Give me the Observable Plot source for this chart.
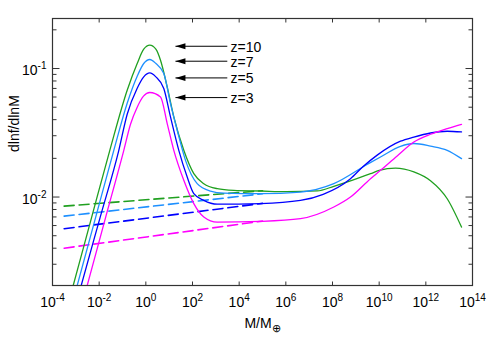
<!DOCTYPE html>
<html><head><meta charset="utf-8">
<script src="https://cdn.jsdelivr.net/npm/d3@7"></script>
<script src="https://cdn.jsdelivr.net/npm/@observablehq/plot@0.6"></script>
<style>body{margin:0;background:#fff;} svg{display:block;}</style>
</head><body><div id="chart"></div>
<script>
// ---- data (pairs of [log10 M, dlnf/dlnM]) ----
const seriesLabels = ["z=10", "z=7", "z=5", "z=3"];
const z10 = [[-3.3,0.00154],[-3.113,0.00205],[-2.329,0.00689],[-1.544,0.0231],[-0.799,0.0678],[-0.37,0.1094],[-0.09,0.1413],[0.17,0.1518],[0.43,0.1413],[0.629,0.116],[0.916,0.0719],[1.199,0.042],[1.627,0.0231],[2.056,0.0152],[2.484,0.0127],[3.059,0.01162],[3.77,0.01127],[4.914,0.01114],[6.0,0.0110],[7.344,0.01115],[8.056,0.01212],[8.771,0.01334],[9.629,0.0152],[10.0,0.0161],[10.7,0.0168],[11.486,0.0157],[12.2,0.0134],[12.916,0.0097],[13.529,0.00584]];
const z7 = [[-3.1,0.0016],[-2.941,0.00205],[-2.157,0.00689],[-1.373,0.0231],[-0.799,0.0537],[-0.37,0.0871],[-0.09,0.1094],[0.17,0.1175],[0.43,0.1094],[0.77,0.0914],[1.057,0.0534],[1.344,0.0331],[1.7,0.0193],[2.201,0.01272],[2.771,0.01114],[3.341,0.01074],[4.914,0.01063],[6.629,0.01094],[8.056,0.01272],[9.5,0.018],[10.057,0.0205],[10.914,0.0248],[11.486,0.0261],[12.2,0.0249],[12.916,0.0231],[13.529,0.0199]];
const z5 = [[-2.95,0.00155],[-2.77,0.00205],[-1.964,0.00689],[-1.158,0.0231],[-0.799,0.0441],[-0.37,0.0703],[-0.09,0.0861],[0.17,0.0924],[0.43,0.0861],[0.77,0.0699],[1.057,0.042],[1.413,0.0231],[1.773,0.0143],[2.056,0.01063],[2.484,0.00942],[3.059,0.0088],[4.914,0.0089],[6.629,0.00942],[7.6,0.0105],[8.771,0.0139],[9.3,0.0172],[9.916,0.0212],[10.914,0.0272],[11.486,0.0293],[12.2,0.0315],[12.916,0.0325],[13.529,0.0321]];
const z3 = [[-2.7,0.00154],[-2.513,0.00205],[-1.729,0.00689],[-0.944,0.0231],[-0.657,0.0368],[-0.37,0.05],[-0.1,0.0609],[0.17,0.0651],[0.629,0.0601],[0.916,0.0373],[1.199,0.0231],[1.627,0.0135],[2.056,0.00889],[2.484,0.00699],[3.059,0.00638],[4.914,0.00647],[6.629,0.00679],[8.056,0.00836],[8.771,0.01],[9.629,0.0139],[10.057,0.01614],[10.772,0.0209],[11.486,0.0268],[12.2,0.0308],[12.916,0.0341],[13.529,0.0368]];
// dashed power-law lines
const z10Dash = [[-3.5,0.0085],[5,0.0112]];
const z7Dash  = [[-3.5,0.0071],[5,0.0106]];
const z5Dash  = [[-3.5,0.00567],[5,0.00893]];
const z3Dash  = [[-3.5,0.0040],[5,0.0065]];
// annotations
const annoLabels = ["z=10", "z=7", "z=5", "z=3"];
const annoF = [0.149, 0.114, 0.0845, 0.0594];
const arrowTailM = 3100, arrowTipM = 18.6, annoTextM = 4300;
// axes
const xTickExp = [-4,-2,0,2,4,6,8,10,12,14];
const yTickExp = [-2,-1];
const xDomain = [1e-4, 1e14];
const yDomain = [0.00205, 0.245];
const xLabel = "M/M⊕";
const yLabel = "dlnf/dlnM";

// ---- styles ----
const colors = ["#20a020", "#1e90ff", "#0000ff", "#ff00ff"];
const font = "'Liberation Sans', Arial, Helvetica, sans-serif";

const solids = [z10, z7, z5, z3];
const dashes = [z10Dash, z7Dash, z5Dash, z3Dash];
const solidRows = solids.flatMap((s, i) => s.map(([lm, f]) => ({z: seriesLabels[i], m: 10 ** lm, f})));
const dashRows = dashes.flatMap((s, i) => s.map(([lm, f]) => ({z: seriesLabels[i], m: 10 ** lm, f})));
const annos = annoLabels.map((t, i) => ({t, f: annoF[i]}));

const xTicks = xTickExp.map(e => 10 ** e);
const yTicks = yTickExp.map(e => 10 ** e);
const yMinor = [-3, -2, -1].flatMap(e => [2,3,4,5,6,7,8,9].map(k => k * 10 ** e)).filter(v => v > yDomain[0] && v < yDomain[1]);

const seg = (x1, y1, x2, y2) => ({draw(c) { c.moveTo(x1, y1); c.lineTo(x2, y2); }});
const head = {draw(c) { c.moveTo(0, 0); c.lineTo(10, -3); c.lineTo(10, 3); c.closePath(); }};
const tickStyle = {fill: "none", stroke: "#333", strokeWidth: 1};

const chart = Plot.plot({
  width: 500, height: 350,
  marginLeft: 52, marginRight: 28, marginTop: 18, marginBottom: 65,
  style: {fontFamily: font, fontSize: "14px", background: "#fff"},
  x: {type: "log", domain: xDomain},
  y: {type: "log", domain: yDomain},
  color: {domain: seriesLabels, range: colors},
  marks: [
    Plot.line(dashRows, {x: "m", y: "f", z: "z", stroke: "z", strokeWidth: 1.6, strokeDasharray: "10,5", clip: true}),
    Plot.line(solidRows, {x: "m", y: "f", z: "z", stroke: "z", strokeWidth: 1.3, curve: "monotone-x", clip: true}),
    Plot.frame({stroke: "#333", strokeWidth: 1.2}),
    // inward ticks on all sides
    Plot.dot(xTicks, {x: d => d, y: () => yDomain[0], symbol: seg(0, 0, 0, -4), ...tickStyle}),
    Plot.dot(xTicks, {x: d => d, y: () => yDomain[1], symbol: seg(0, 0, 0, 4), ...tickStyle}),
    Plot.dot(yTicks, {x: () => xDomain[0], y: d => d, symbol: seg(0, 0, 7, 0), ...tickStyle}),
    Plot.dot(yTicks, {x: () => xDomain[1], y: d => d, symbol: seg(0, 0, -7, 0), ...tickStyle}),
    Plot.dot(yMinor, {x: () => xDomain[0], y: d => d, symbol: seg(0, 0, 4, 0), ...tickStyle}),
    Plot.dot(yMinor, {x: () => xDomain[1], y: d => d, symbol: seg(0, 0, -4, 0), ...tickStyle}),
    Plot.axisX({ticks: xTicks, tickSize: 0, tickPadding: 12, fontSize: 14, label: null,
      tickFormat: d => "10^" + Math.round(Math.log10(d))}),
    Plot.axisY({ticks: yTicks, tickSize: 0, tickPadding: 6, fontSize: 14, label: null, dy: 2,
      tickFormat: d => "10^" + Math.round(Math.log10(d))}),
    Plot.text([xLabel], {text: d => d, frameAnchor: "bottom", lineAnchor: "bottom", dy: 42, fontSize: 14}),
    Plot.text([yLabel], {text: d => d, frameAnchor: "left", rotate: -90, dx: -38, fontSize: 14}),
    // annotations
    Plot.link(annos, {x1: () => arrowTailM, x2: () => arrowTipM, y1: "f", y2: "f", stroke: "#000", strokeWidth: 1}),
    Plot.dot(annos, {x: () => arrowTipM, y: "f", symbol: head, fill: "#000", stroke: "none"}),
    Plot.text(annos, {x: () => annoTextM, y: "f", text: "t", textAnchor: "start", fontSize: 14, dy: 1})
  ]
});

// superscripts / subscripts as real text
const NS = "http://www.w3.org/2000/svg";
chart.querySelectorAll("text").forEach(t => {
  const s = t.textContent;
  const m = s.match(/^10\^(-?\d+)$/);
  if (m) {
    t.textContent = "10";
    const ts = document.createElementNS(NS, "tspan");
    ts.setAttribute("dy", "-6");
    ts.setAttribute("font-size", "10");
    ts.textContent = m[1];
    t.appendChild(ts);
  } else if (s === xLabel) {
    t.textContent = "M/M";
    const ts = document.createElementNS(NS, "tspan");
    ts.setAttribute("dy", "4");
    ts.setAttribute("font-size", "11");
    ts.textContent = "⊕";
    t.appendChild(ts);
  }
});
document.getElementById("chart").appendChild(chart);
</script>
</body></html>
